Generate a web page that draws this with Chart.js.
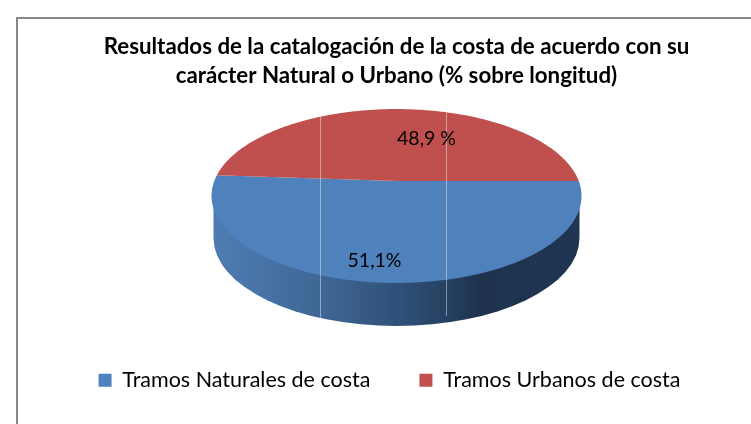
<!DOCTYPE html>
<html><head><meta charset="utf-8">
<style>html,body{margin:0;padding:0;background:#fff}canvas{display:block}#w{width:751px;height:424px}</style>
<script src="https://cdn.jsdelivr.net/npm/chart.js@4/dist/chart.umd.min.js"></script>
</head><body><div id="w"><canvas id="c" width="751" height="424"></canvas></div>
<script>
const categories = ['Tramos Naturales de costa', 'Tramos Urbanos de costa'];
const shares = [51.1, 48.9];
const shareLabels = ['51,1%', '48,9 %'];
const sliceColors = ['#4F81BD', '#C0504D'];
const titleLines = ['Resultados de la catalogación de la costa de acuerdo con su', 'carácter Natural o Urbano (% sobre longitud)'];
const FONT = 'Lato, Carlito, Calibri, sans-serif';

const pie3d = {
  id: 'pie3d',
  afterLayout(chart) {
    chart.legend.left -= 7;
    chart.legend.right -= 7;
  },
  beforeDraw(chart) {
    const c = chart.ctx;
    c.save();
    c.fillStyle = '#fff'; c.fillRect(0, 0, chart.width, chart.height);
    c.fillStyle = '#868686';
    c.fillRect(16, 17, chart.width - 16, 2);
    c.fillRect(16, 17, 2, chart.height - 17);
    c.restore();
  },
  beforeDatasetDraw(chart, args) {
    const meta = args.meta, c = chart.ctx;
    const a0 = meta.data[0];
    const rx = a0.outerRadius, ry = rx * 0.47, cx = a0.x, cy = 196;
    const v0 = -15 / ry, depth = 42;
    const proj = (t) => {
      const s = Math.sin(t), d = 1 + v0 * s;
      return [cx + rx * Math.cos(t) * Math.sqrt(1 - v0 * v0) / d, cy + ry * (s + v0) / d];
    };
    // side wall
    c.save();
    const g = c.createLinearGradient(cx - rx, 0, cx + rx, 0);
    g.addColorStop(0, '#4F7DB3'); g.addColorStop(0.3, '#3F6694'); g.addColorStop(0.55, '#2C4C72');
    g.addColorStop(0.72, '#1F334F'); g.addColorStop(1, '#1F3551');
    c.fillStyle = g;
    c.beginPath();
    c.ellipse(cx, cy + depth, rx - 2, ry + 1, 0, 0, Math.PI);
    c.lineTo(cx - rx + 2, cy);
    c.lineTo(cx + rx - 2, cy);
    c.closePath();
    c.fill();
    // top faces, from the angles the library computed
    meta.data.forEach((arc, i) => {
      c.fillStyle = sliceColors[i];
      c.beginPath();
      c.moveTo(cx, cy + ry * v0);
      const n = 120;
      for (let k = 0; k <= n; k++) {
        const t = arc.startAngle + (arc.endAngle - arc.startAngle) * k / n;
        const p = proj(t);
        c.lineTo(p[0], p[1]);
      }
      c.closePath();
      c.fill();
    });
    // scan seams
    c.fillStyle = 'rgba(225,232,240,0.5)';
    c.fillRect(320, 116, 1, 202);
    c.fillRect(446, 112, 1, 204);
    // labels
    c.fillStyle = '#000';
    c.font = '19.5px ' + FONT;
    c.textAlign = 'center'; c.textBaseline = 'middle';
    c.fillText(shareLabels[0], cx - 22, cy + 65);
    c.fillText(shareLabels[1], cx + 30, cy - 57);
    c.restore();
    return false;
  }
};

new Chart(document.getElementById('c'), {
  type: 'pie',
  plugins: [pie3d],
  data: { labels: categories, datasets: [{ data: shares, backgroundColor: sliceColors, borderWidth: 0 }] },
  options: {
    responsive: false, animation: false,
    rotation: 90,
    radius: 185,
    layout: { padding: { left: 42, right: 0, top: 0, bottom: 23 } },
    plugins: {
      tooltip: { enabled: false },
      title: { display: true, text: titleLines, color: '#000', font: { family: FONT, size: 22.3, weight: 'bold', lineHeight: 1.3 }, padding: { top: 32, bottom: 4 } },
      legend: { position: 'bottom', labels: { color: '#000', font: { family: FONT, size: 21.5 }, boxWidth: 13, boxHeight: 13, padding: 49 } }
    }
  }
});
</script></body></html>
